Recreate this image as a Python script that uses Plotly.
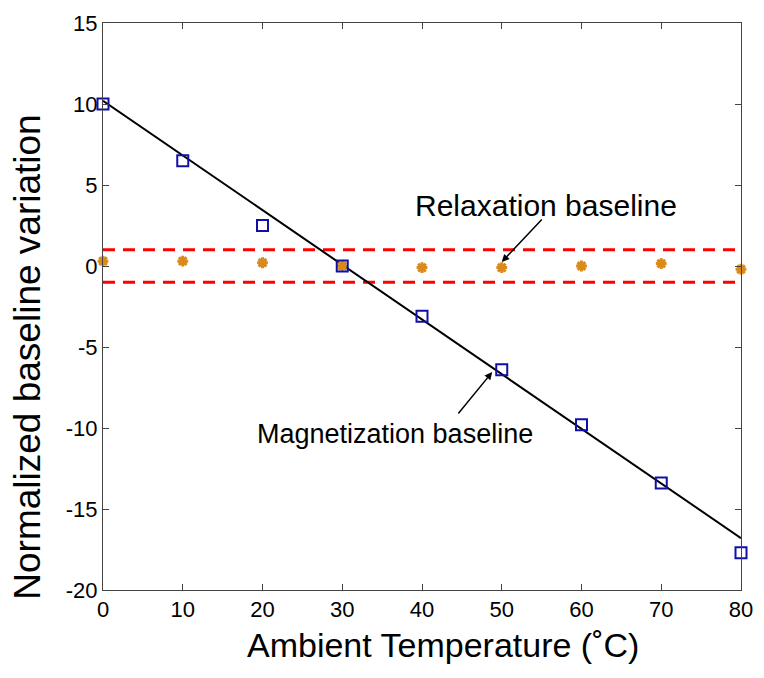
import plotly.graph_objects as go

temperature = [0, 10, 20, 30, 40, 50, 60, 70, 80]
magnetization = [10.0, 6.5, 2.5, 0.0, -3.1, -6.4, -9.8, -13.4, -17.7]
relaxation = [0.3, 0.3, 0.2, 0.0, -0.1, -0.1, 0.0, 0.15, -0.2]
fit_x = [0, 80]
fit_y = [10.2, -16.8]
band_upper = 1.0
band_lower = -1.0
x_ticks = [0, 10, 20, 30, 40, 50, 60, 70, 80]
y_ticks = [-20, -15, -10, -5, 0, 5, 10, 15]
y_tick_labels = ["-20", "-15", "-10", "-5", "0", "5", "10", "15"]

FONT = "Liberation Sans, Arial, sans-serif"
ORANGE = "#d98a1a"
BLUE = "#1010a8"

fig = go.Figure()

for yv in (band_upper, band_lower):
    fig.add_trace(go.Scatter(x=[0, 80], y=[yv, yv], mode="lines",
                             line=dict(color="#ff0000", width=3, dash="12px,8px"),
                             showlegend=False, hoverinfo="skip"))

fig.add_trace(go.Scatter(x=fit_x, y=fit_y, mode="lines",
                         line=dict(color="black", width=2), showlegend=False))

fig.add_trace(go.Scatter(x=temperature, y=relaxation, mode="markers",
                         marker=dict(symbol="asterisk-open", size=9, color=ORANGE,
                                     line=dict(color=ORANGE, width=3)),
                         showlegend=False, cliponaxis=False))

fig.add_trace(go.Scatter(x=temperature, y=magnetization, mode="markers",
                         marker=dict(symbol="square-open", size=11, color=BLUE,
                                     line=dict(color=BLUE, width=2)),
                         showlegend=False, cliponaxis=False))

fig.add_annotation(x=50, y=0.25, ax=55.2, ay=2.96, axref="x", ayref="y",
                   xref="x", yref="y", showarrow=True, arrowhead=2, arrowsize=1,
                   arrowwidth=1.5, arrowcolor="black", text="")
fig.add_annotation(x=48.8, y=-6.55, ax=44.4, ay=-9.2, axref="x", ayref="y",
                   xref="x", yref="y", showarrow=True, arrowhead=2, arrowsize=1,
                   arrowwidth=1.5, arrowcolor="black", text="")

fig.add_annotation(x=55.6, y=3.75, xref="x", yref="y", text="Relaxation baseline",
                   showarrow=False, font=dict(family=FONT, size=30, color="black"))
fig.add_annotation(x=36.6, y=-10.4, xref="x", yref="y", text="Magnetization baseline",
                   showarrow=False, font=dict(family=FONT, size=27, color="black"))

# axis titles
fig.add_annotation(x=0.533, y=-0.097, xref="paper", yref="paper",
                   text="Ambient Temperature (˚C)", showarrow=False,
                   xanchor="center", yanchor="middle",
                   font=dict(family=FONT, size=34, color="black"))
fig.add_annotation(x=-0.118, y=0.411, xref="paper", yref="paper",
                   text="Normalized baseline variation", showarrow=False,
                   textangle=-90, xanchor="center", yanchor="middle",
                   font=dict(family=FONT, size=37, color="black"))

axis_common = dict(showline=True, linecolor="#444444", linewidth=1, mirror="ticks",
                   ticks="inside", ticklen=6, tickcolor="#444444", showgrid=False,
                   zeroline=False, automargin=False,
                   tickfont=dict(family=FONT, size=22, color="black"))

fig.update_layout(
    width=756, height=670,
    margin=dict(l=95, r=23, t=15, b=88),
    paper_bgcolor="white", plot_bgcolor="white",
    xaxis=dict(range=[0, 80], tickvals=x_ticks, **axis_common),
    yaxis=dict(range=[-20, 15], tickvals=y_ticks, ticktext=y_tick_labels, **axis_common),
)

fig.write_html("out.html")
